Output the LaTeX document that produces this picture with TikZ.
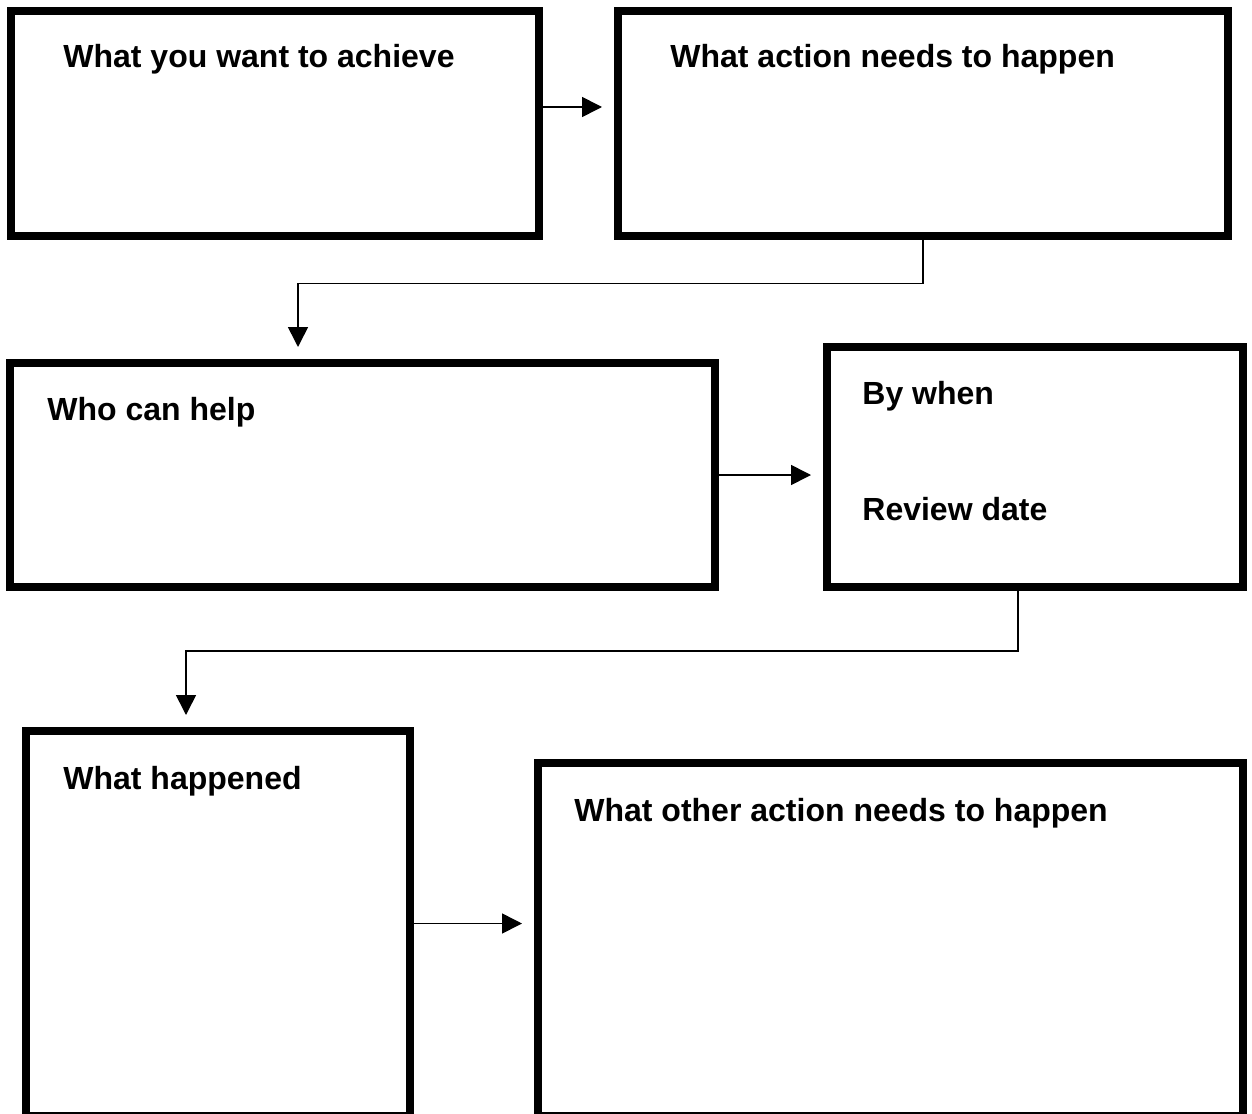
\documentclass[tikz,border=0pt]{standalone}
\usepackage{fontspec}
\setmainfont{Liberation Sans}
\usetikzlibrary{arrows.meta}

\tikzset{
  box/.style={draw,rectangle,line width=4pt,inner sep=0pt},
  lbl/.style={anchor=base west,inner sep=0pt,font=\fontsize{16}{19}\selectfont\bfseries},
  arr/.style={-{Triangle[length=10pt,width=10pt]},line width=0.8pt,shorten >=6pt}
}

\begin{document}
\begin{tikzpicture}[x=0.5pt,y=-0.5pt]
    \useasboundingbox (0,0) rectangle (1252,1113);
    % boxes
    \node[box,minimum width=264pt,minimum height=112.5pt] (b1) at (275,123.5) {};
    \node[box,minimum width=305pt,minimum height=112.5pt] (b2) at (923,123.5) {};
    \node[box,minimum width=352.5pt,minimum height=112pt] (b3) at (362.5,475) {};
    \node[box,minimum width=208pt,minimum height=120pt] (b4) at (1035,467) {};
    \node[box,minimum width=192pt,minimum height=192.5pt] (b5) at (218,923.5) {};
    \node[box,minimum width=352.5pt,minimum height=176.5pt] (b6) at (890.5,939.5) {};
    % texts
    \node[lbl] (t1) at (63,68) {What you want to achieve};
    \node[lbl] (t2) at (670,68) {What action needs to happen};
    \node[lbl] (t3) at (47,420) {Who can help};
    \node[lbl] (t4) at (862,404) {By when};
    \node[lbl] (t5) at (862,520) {Review date};
    \node[lbl] (t6) at (63,789) {What happened};
    \node[lbl] (t7) at (574,821) {What other action needs to happen};
    % connectors
    \draw[arr] ([yshift=8.25pt]b1.east) coordinate (a1) -- (a1 -| b2.west);
    \draw[arr] (b2.south) -- ++(0,43.5) -| ([xshift=-32.25pt]b3.north);
    \draw[arr] (b3.east) -- (b3.east -| b4.west);
    \draw[arr] ([xshift=-8.5pt]b4.south) -- ++(0,60) -| ([xshift=-16pt]b5.north);
    \draw[arr] (b5.east) -- (b5.east -| b6.west);
\end{tikzpicture}
\end{document}
